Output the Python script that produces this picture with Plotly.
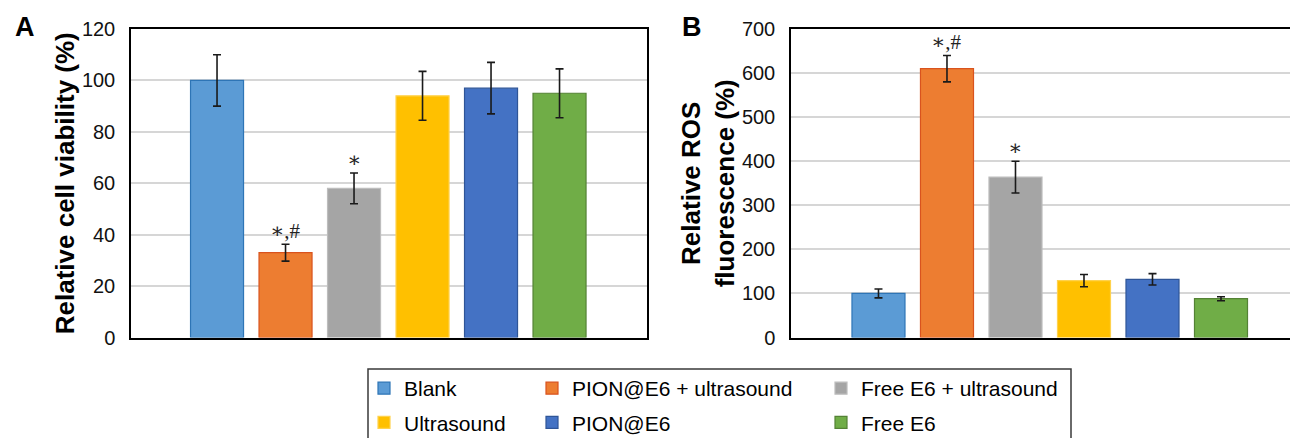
import plotly.graph_objects as go

# ---- data ----
groups = ["Blank", "PION@E6 + ultrasound", "Free E6 + ultrasound",
          "Ultrasound", "PION@E6", "Free E6"]
fill_colors = ["#5B9BD5", "#ED7D31", "#A5A5A5", "#FFC000", "#4472C4", "#70AD47"]
edge_colors = ["#2E75B6", "#D9531E", "#BDBDBD", "#FFD24D", "#2F5597", "#548235"]
viability = [100, 33, 58, 94, 97, 95]
viability_err = [10, 3.3, 6, 9.5, 10, 9.5]
ros = [100, 610, 364, 129, 132, 88]
ros_err = [10, 30, 36, 14, 13, 4.5]
marks = ["\u2217,#", "\u2217"]
mark_idx = [1, 2]
legend_ids = ["legend", "legend2", "legend3", "legend", "legend2", "legend3"]
ticks_a = [0, 20, 40, 60, 80, 100, 120]
ticks_b = [0, 100, 200, 300, 400, 500, 600, 700]

# the page body adds an 8px margin, so the figure is 8px smaller and
# screen positions are converted to paper fractions with that offset
OFF = 8
W, H = 1298 - OFF, 438 - OFF


def px(x):
    return (x - OFF) / W


def py(y):
    return 1 - (y - OFF) / H


FONT = "Liberation Sans, Arial, sans-serif"
STAR_FONT = dict(family="Liberation Serif, DejaVu Serif, serif", size=21, color="#222")

fig = go.Figure()

for i, g in enumerate(groups):
    for panel, vals, errs in (("A", viability, viability_err), ("B", ros, ros_err)):
        fig.add_trace(go.Bar(
            x=[i], y=[vals[i]], width=0.774,
            name=g, legendgroup=g, legend=legend_ids[i],
            showlegend=(panel == "A"),
            marker=dict(color=fill_colors[i], line=dict(color=edge_colors[i], width=1.2)),
            error_y=dict(type="data", array=[errs[i]], color="#1a1a1a",
                         thickness=1.6, width=4),
            xaxis="x" if panel == "A" else "x2",
            yaxis="y" if panel == "A" else "y2",
            hoverinfo="skip",
        ))

annotations = []
for m, i in zip(marks, mark_idx):
    annotations.append(dict(x=i, y=viability[i] + viability_err[i], xref="x", yref="y",
                            text=m, showarrow=False, yanchor="bottom", yshift=-1,
                            font=STAR_FONT))
    annotations.append(dict(x=i, y=ros[i] + ros_err[i], xref="x2", yref="y2",
                            text=m, showarrow=False, yanchor="bottom", yshift=-1,
                            font=STAR_FONT))

annotations.append(dict(x=px(25), y=py(27.5), xref="paper", yref="paper", text="<b>A</b>",
                        showarrow=False, xanchor="center", yanchor="middle",
                        font=dict(family=FONT, size=27, color="#000")))
annotations.append(dict(x=px(692), y=py(27.5), xref="paper", yref="paper", text="<b>B</b>",
                        showarrow=False, xanchor="center", yanchor="middle",
                        font=dict(family=FONT, size=27, color="#000")))

y_top = py(29)
y_bot = py(337.5)

axis_common = dict(showgrid=False, zeroline=False, showticklabels=False,
                   showline=True, linecolor="#000", linewidth=1.5, ticks="",
                   automargin=False)
yaxis_common = dict(showgrid=True, gridcolor="#D6D6D6", gridwidth=1.6, zeroline=False,
                    showline=True, linecolor="#000", linewidth=1.5, ticks="",
                    tickfont=dict(family=FONT, size=20, color="#111"),
                    ticklabelstandoff=10, automargin=False)

legend_common = dict(orientation="v", xanchor="left", yanchor="top", y=py(368),
                     bgcolor="rgba(0,0,0,0)", borderwidth=0,
                     font=dict(family=FONT, size=21, color="#000"),
                     traceorder="grouped", tracegroupgap=4, itemclick=False,
                     itemdoubleclick=False)

fig.update_layout(
    width=W, height=H,
    margin=dict(l=0, r=0, t=0, b=0, autoexpand=False),
    paper_bgcolor="white", plot_bgcolor="white",
    barmode="overlay",
    xaxis=dict(domain=[px(131), px(647)], range=[-1.256, 6.277], mirror=True, **axis_common),
    yaxis=dict(domain=[y_bot, y_top], range=[0, 120], tickvals=ticks_a, mirror=True,
               title=dict(text="<b>Relative cell viability (%)</b>", standoff=0,
                          font=dict(family=FONT, size=26, color="#000")),
               **yaxis_common),
    xaxis2=dict(domain=[px(791), 1.0], range=[-1.277, 6.124], mirror=True,
                anchor="y2", **axis_common),
    yaxis2=dict(domain=[y_bot, y_top], range=[0, 700], tickvals=ticks_b, anchor="x2",
                title=dict(text="<b>Relative ROS<br>fluorescence (%)</b>", standoff=0,
                           font=dict(family=FONT, size=26, color="#000")),
                **yaxis_common),
    legend=dict(x=px(364), **legend_common),
    legend2=dict(x=px(532), **legend_common),
    legend3=dict(x=px(821), **legend_common),
    annotations=annotations,
    shapes=[dict(type="rect", xref="paper", yref="paper",
                 x0=px(368), x1=px(1071), y0=-0.1, y1=py(369),
                 line=dict(color="#3a3a3a", width=1.5), fillcolor="rgba(0,0,0,0)")],
    showlegend=True,
)

fig.write_html("out.html", post_script="document.body.style.overflow='hidden';")
